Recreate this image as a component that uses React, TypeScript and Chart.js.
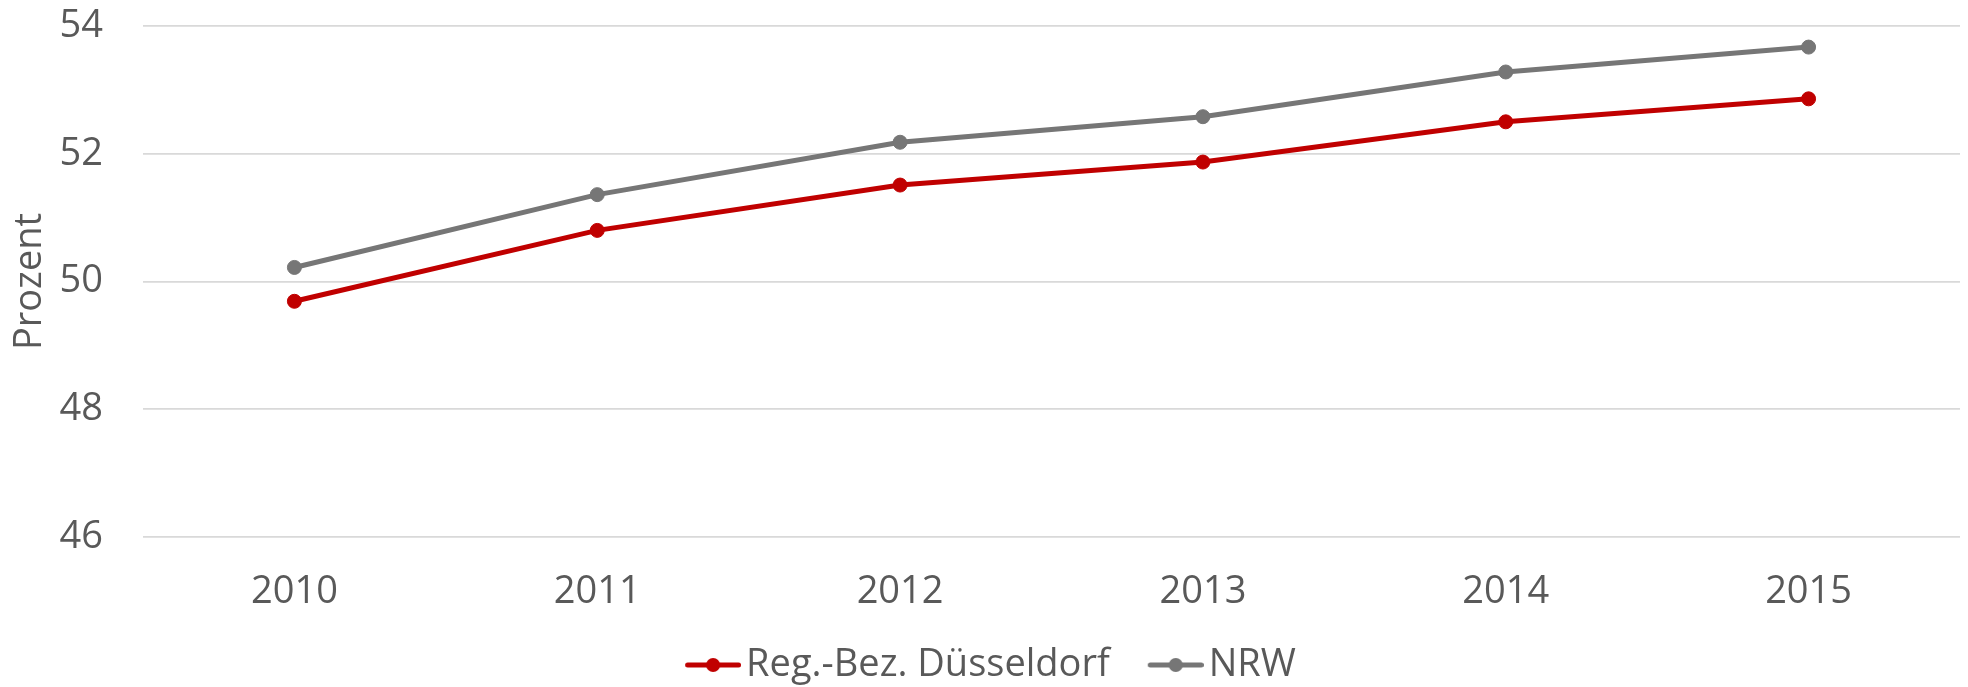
import React, { useEffect, useRef } from "react";
import { Chart, registerables } from "chart.js";

Chart.register(...registerables);

const years = ["2010", "2011", "2012", "2013", "2014", "2015"];
const regBezDuesseldorf = [49.69, 50.8, 51.51, 51.87, 52.5, 52.86];
const nrw = [50.22, 51.36, 52.18, 52.58, 53.28, 53.67];
const seriesNames = ["Reg.-Bez. Düsseldorf", "NRW"];
const yTitle = "Prozent";

const RED = "#C00000";
const GREY = "#767676";
const TEXT = "#595959";
const FONT = "'Open Sans', 'Noto Sans', sans-serif";
const FS = 38;
const ICON_BLANK = 32;

function makeIcon(color: string): HTMLCanvasElement {
  const c = document.createElement("canvas");
  const bl = ICON_BLANK;
  c.width = bl + 56;
  c.height = 18;
  const ctx = c.getContext("2d")!;
  ctx.strokeStyle = color;
  ctx.lineWidth = 5;
  ctx.lineCap = "round";
  ctx.beginPath();
  ctx.moveTo(bl + 2.5, 9);
  ctx.lineTo(bl + 53.5, 9);
  ctx.stroke();
  ctx.fillStyle = color;
  ctx.beginPath();
  ctx.arc(bl + 28, 9, 7, 0, Math.PI * 2);
  ctx.fill();
  return c;
}

export default function App() {
  const ref = useRef<HTMLCanvasElement | null>(null);
  useEffect(() => {
    if (!ref.current) return;
    const chart = new Chart(ref.current, {
      type: "line",
      data: {
        labels: years,
        datasets: [
          {
            label: seriesNames[0],
            data: regBezDuesseldorf,
            borderColor: RED,
            backgroundColor: RED,
            borderWidth: 5,
            pointRadius: 7,
            pointBorderWidth: 1,
            pointBackgroundColor: RED,
            pointBorderColor: RED,
            tension: 0,
          },
          {
            label: seriesNames[1],
            data: nrw,
            borderColor: GREY,
            backgroundColor: GREY,
            borderWidth: 5,
            pointRadius: 7,
            pointBorderWidth: 1,
            pointBackgroundColor: GREY,
            pointBorderColor: GREY,
            tension: 0,
          },
        ],
      },
      options: {
        responsive: false,
        animation: false,
        layout: { padding: { top: 26, right: 5, left: 0, bottom: -7 } },
        plugins: {
          tooltip: { enabled: false },
          legend: {
            position: "bottom",
            labels: {
              font: { family: FONT, size: FS },
              color: TEXT,
              padding: 20,
              usePointStyle: true,
              pointStyleWidth: ICON_BLANK + 28,
              generateLabels: (ch: any) =>
                ch.data.datasets.map((ds: any, i: number) => ({
                  text: ds.label,
                  pointStyle: makeIcon(ds.borderColor),
                  fillStyle: ds.borderColor,
                  strokeStyle: ds.borderColor,
                  lineWidth: 0,
                  hidden: false,
                  datasetIndex: i,
                  fontColor: TEXT,
                })),
            },
          },
        },
        scales: {
          x: {
            offset: true,
            grid: { display: false, drawTicks: false },
            border: { display: false },
            ticks: {
              font: { family: FONT, size: FS },
              color: TEXT,
              padding: 32,
              maxRotation: 0,
            },
            afterFit: (s: any) => {
              s.height = 89;
            },
          },
          y: {
            min: 46,
            max: 54,
            grid: { color: "#D9D9D9", lineWidth: 1.7, drawTicks: false },
            border: { display: false },
            ticks: {
              stepSize: 2,
              font: { family: FONT, size: FS },
              color: TEXT,
              padding: 40,
            },
            title: {
              display: true,
              text: yTitle,
              font: { family: FONT, size: FS },
              color: TEXT,
              padding: { top: 7, bottom: 0 },
            },
            afterFit: (s: any) => {
              s.width = 143;
              s.paddingTop = 22;
              s.paddingBottom = 22;
            },
          },
        },
      },
    });
    return () => chart.destroy();
  }, []);
  return (
    <div style={{ position: "fixed", left: 0, top: 0, width: 1968, height: 687, overflow: "hidden", background: "#fff" }}>
      <canvas ref={ref} width={1968} height={687} style={{ display: "block" }} />
    </div>
  );
}
